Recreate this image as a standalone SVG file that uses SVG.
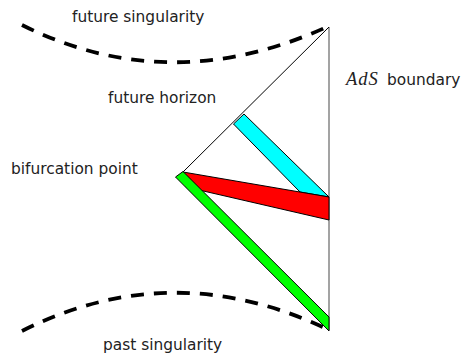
<svg xmlns="http://www.w3.org/2000/svg" width="461" height="355" viewBox="0 0 461 355">
<style>
.lbl{font-family:"DejaVu Sans",sans-serif;font-size:15.4px;fill:#222}
.math{font-family:"Liberation Serif",serif;font-style:italic;font-size:18.5px;letter-spacing:1px;fill:#222}
.sing{fill:none;stroke:#000;stroke-width:3.8;stroke-dasharray:13 10}
.strip{stroke:#000;stroke-width:1;stroke-linejoin:miter}
</style>
<rect width="461" height="355" fill="#fff"/>
<g id="connectors">
<path id="future-singularity-curve" class="sing" d="M22,25 Q170,99 329,26"/>
<path id="past-singularity-curve" class="sing" d="M22,331 Q173,255 329,330"/>
<line id="ads-boundary-line" x1="329" y1="27" x2="329" y2="330" stroke="#8c8c8c" stroke-width="1.6"/>
<line id="future-horizon-line" x1="183" y1="172" x2="329" y2="27" stroke="#000" stroke-width="1"/>
</g>
<g id="cyan-strip"><polygon class="strip" fill="#00ffff" points="233.5,124 244,114 329,197 300,192"/></g>
<g id="red-strip"><polygon class="strip" fill="#ff0000" points="183,172 329,197 329,220 186,187"/></g>
<g id="green-strip"><polygon class="strip" fill="#00ff00" points="175.5,177 183,171.5 329,317 329,331"/></g>
<g id="label-future-singularity"><text class="lbl" x="72" y="22">future singularity</text></g>
<g id="label-future-horizon"><text class="lbl" x="108" y="103">future horizon</text></g>
<g id="label-bifurcation"><text class="lbl" x="11" y="174">bifurcation point</text></g>
<g id="label-ads"><text class="math" x="346" y="85">AdS</text><text class="lbl" x="387" y="85">boundary</text></g>
<g id="label-past-singularity"><text class="lbl" x="103" y="350">past singularity</text></g>
</svg>
